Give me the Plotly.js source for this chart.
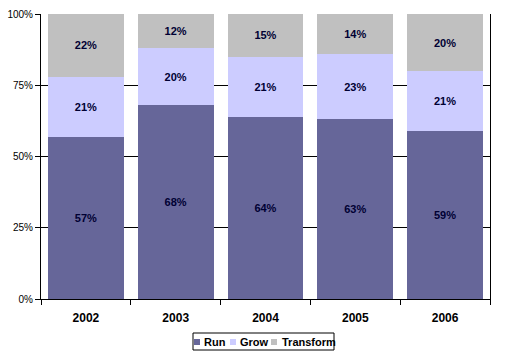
<!DOCTYPE html>
<html>
<head>
<meta charset="utf-8">
<script src="https://cdn.plot.ly/plotly-3.0.1.min.js"></script>
<style>html,body{margin:0;padding:0;background:#fff;}#chart{width:509px;height:355px;}</style>
</head>
<body>
<div id="chart"></div>
<script>
var years = ["2002", "2003", "2004", "2005", "2006"];
var run = [57, 68, 64, 63, 59];
var grow = [21, 20, 21, 23, 21];
var transform = [22, 12, 15, 14, 20];
var seriesNames = ["Run", "Grow", "Transform"];
var seriesColors = ["#666699", "#CCCCFF", "#C0C0C0"];
var yTickVals = [0, 25, 50, 75, 100];
var yTickText = ["0%", "25%", "50%", "75%", "100%"];

var F = "Liberation Sans, Arial, sans-serif";
var seriesData = [run, grow, transform];
var traces = seriesData.map(function (vals, i) {
  return {
    type: "bar",
    name: seriesNames[i],
    x: years,
    y: vals,
    marker: {color: seriesColors[i], line: {width: 0}},
    text: vals.map(function (v) { return v + "%"; }),
    texttemplate: "<b>%{text}</b>",
    textposition: "inside",
    insidetextanchor: "middle",
    textangle: 0,
    textfont: {family: F, size: 11, color: "#000033"},
    hoverinfo: "none",
    showlegend: false
  };
});

var L = 41, R = 490, T = 14, B = 299;
function px(x) { return (x - L) / (R - L); }
function py(y) { return (B - y) / (B - T); }

var shapes = [
  {type: "rect", xref: "paper", yref: "paper", x0: px(193), x1: px(334), y0: py(350), y1: py(333),
   line: {color: "#000", width: 1}, fillcolor: "#fff"}
];
var annotations = [];
var legendSq = [194, 230, 271];
var legendTx = [202, 238, 280];
for (var i = 0; i < seriesNames.length; i++) {
  shapes.push({type: "rect", xref: "paper", yref: "paper", x0: px(legendSq[i]), x1: px(legendSq[i] + 6),
    y0: py(345), y1: py(339), line: {width: 0}, fillcolor: seriesColors[i]});
  annotations.push({xref: "paper", yref: "paper", x: px(legendTx[i]), y: py(341.5), xanchor: "left", yanchor: "middle",
    text: "<b>" + seriesNames[i] + "</b>", showarrow: false, font: {family: F, size: 11, color: "#000"}});
}

var layout = {
  width: 509, height: 355,
  margin: {l: L, r: 509 - R, t: T, b: 355 - B, pad: 0},
  paper_bgcolor: "#fff", plot_bgcolor: "#fff",
  barmode: "stack",
  bargap: 0.155,
  showlegend: false,
  xaxis: {
    type: "category",
    showline: true, linecolor: "#000", linewidth: 1,
    ticks: "outside", tickson: "boundaries", ticklen: 5, tickcolor: "#000", tickwidth: 1,
    showgrid: false,
    tickfont: {family: F, size: 12, color: "#000", weight: "bold"},
    ticklabelstandoff: 8,
    fixedrange: true
  },
  yaxis: {
    range: [0, 100],
    tickvals: yTickVals, ticktext: yTickText,
    showline: true, linecolor: "#000", linewidth: 1, mirror: true,
    ticks: "outside", ticklen: 5, tickcolor: "#000", tickwidth: 1,
    showgrid: true, gridcolor: "#000", gridwidth: 1,
    zeroline: false,
    tickfont: {family: F, size: 10, color: "#000"},
    fixedrange: true
  },
  shapes: shapes,
  annotations: annotations
};

Plotly.newPlot("chart", traces, layout, {displayModeBar: false, staticPlot: true});
</script>
</body>
</html>
